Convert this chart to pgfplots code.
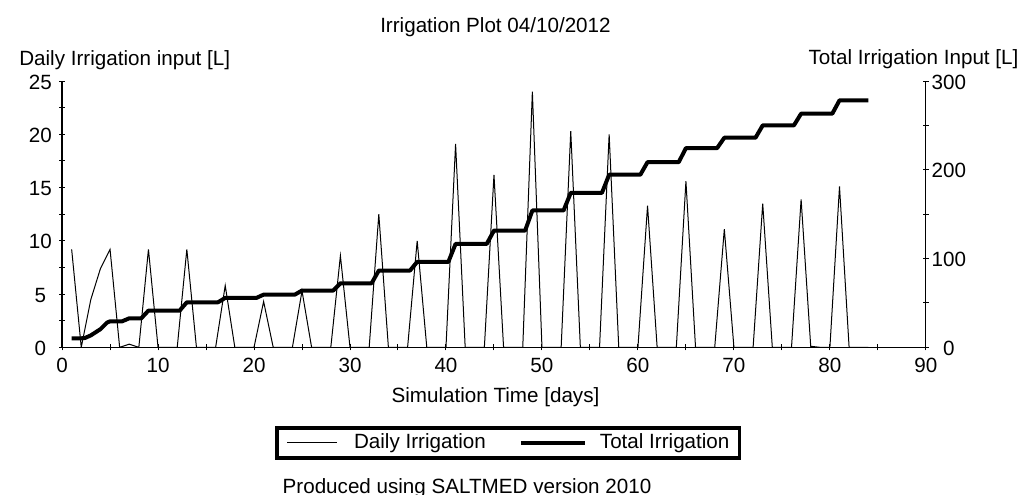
\documentclass[border=0pt]{standalone}
\usepackage{fontspec}
\setmainfont{Liberation Sans}
\usepackage{pgfplots}
\pgfplotsset{compat=1.18}
\newcommand{\fsz}{\fontsize{10.3}{12.4}\selectfont}
\pgfplotsset{
  thinimg/.style={legend image code/.code={\draw[##1] (0pt,0pt) -- (24.5pt,0pt);}},
  thickimg/.style={legend image code/.code={\draw[##1] (0pt,0pt) -- (32pt,0pt);}},
}
\begin{document}
\fsz
\begin{tikzpicture}
\useasboundingbox (-31pt,-73.5pt) rectangle (482.5pt,173.5pt);
\pgfplotsset{
  common/.style={
    scale only axis, width=431.5pt, height=133pt,
    at={(0pt,0pt)}, anchor=south west,
    xmin=0, xmax=90,
    tick align=center, major tick length=3pt, minor tick length=3pt,
    every tick/.style={black, line width=0.5pt},
    axis line style={black, line width=0.6pt},
    /pgf/number format/assume math mode=true,
    tick label style={font=\fsz},
    label style={font=\fsz},
  }
}
\begin{axis}[common,
  ymin=0, ymax=25,
  axis x line*=bottom, axis y line*=left,
  xtick={0,10,...,90}, minor xtick={5,15,...,85},
  ytick={0,5,...,25}, minor ytick={2.5,7.5,...,22.5},
  xticklabel style={anchor=base, yshift=-11pt},
  yticklabel style={anchor=center, xshift=-9.35pt, yshift=-0.5pt},
  every axis x label/.style={at={(axis description cs:0.5,0)}, anchor=base, xshift=0.75pt, yshift=-27.8pt},
  every axis y label/.style={at={(axis description cs:0,1)}, anchor=base west, xshift=-25pt, yshift=7.85pt},
  xlabel={Simulation Time [days]},
  ylabel={Daily Irrigation input [L]},
  title={Irrigation Plot 04/10/2012},
  every axis title shift=0pt,
  title style={at={(axis description cs:0.5,1)}, anchor=base, xshift=0.75pt, yshift=24.5pt, font=\fsz},
]
\addplot[black, line width=0.5pt] table {
x y
1 9.2
2 0
3 4.5
4 7.4
5 9.2
6 0
7 0.3
8 0
9 9.2
10 0
12 0
13 9.2
14 0
16 0
17 5.8
18 0
20 0
21 4.3
22 0
24 0
25 5.3
26 0
28 0
29 8.6
30 0
32 0
33 12.5
34 0
36 0
37 10.0
38 0
40 0
41 19.1
42 0
44 0
45 16.2
46 0
48 0
49 24.0
50 0
52 0
53 20.3
54 0
56 0
57 20.0
58 0
60 0
61 13.3
62 0
64 0
65 15.6
66 0
68 0
69 11.1
70 0
72 0
73 13.5
74 0
76 0
77 13.9
78 0.1
79 0
80 0
81 15.1
82 0
84 0
};
\end{axis}
\begin{axis}[common,
  ymin=0, ymax=300,
  axis y line*=right, axis x line=none,
  ytick={0,100,200,300}, minor ytick={50,150,250},
  yticklabel style={anchor=center, xshift=10pt, yshift=-0.5pt},
  every axis y label/.style={at={(axis description cs:1,1)}, anchor=base east, xshift=49.85pt, yshift=8.3pt},
  ylabel={Total Irrigation Input [L]},
  legend columns=2,
  legend style={at={(axis description cs:0.5165,-0.359)}, anchor=center, draw=black, line width=1.6pt, font=\fsz, inner xsep=5pt, inner ysep=3pt, nodes={inner sep=0pt},
    /tikz/column 1/.style={column sep=8.5pt},
    /tikz/column 2/.style={column sep=16.5pt},
    /tikz/column 3/.style={column sep=6.5pt}},
]
\addlegendimage{black, line width=0.5pt, thinimg}
\addlegendentry{Daily Irrigation}
\addplot[black, line width=2pt, line join=round, thickimg] table {
x y
1 10.2
2 10.2
2.4 10.6
3 13.5
4 20.5
4.7 28
5 29.3
6.25 29.3
7 32.7
8.25 32.7
9 41.4
12.25 41.4
13 50.8
16.25 50.8
17 55.7
20.25 55.7
21 59.4
24.25 59.4
25 64
28.25 64
29 72.2
32.25 72.2
33 86.5
36.25 86.5
37 96.3
40.25 96.3
41 116.6
44.25 116.6
45 131.6
48.25 131.6
49 154.2
52.25 154.2
53 174.1
56.25 174.1
57 194.5
60.25 194.5
61 208.7
64.25 208.7
65 224.5
68.25 224.5
69 236.2
72.25 236.2
73 250.1
76.25 250.1
77 263.3
80.25 263.3
81 278.3
84 278.3
};
\addlegendentry{Total Irrigation}
\end{axis}
\node[anchor=base west, font=\fsz, inner sep=0pt] at (110pt,-73pt) {Produced using SALTMED version 2010};
\end{tikzpicture}
\end{document}
